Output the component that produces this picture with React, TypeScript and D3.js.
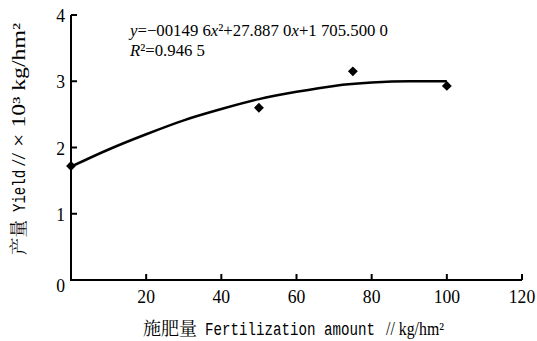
import React from "react";
import * as d3 from "d3";

const W = 537;
const H = 341;

// observed data points (fertilization kg/hm², yield ×10³ kg/hm²)
const pointX = [0, 50, 75, 100];
const pointY = [1.72, 2.6, 3.15, 2.93];

// fitted trend line
const curveX = [0, 10, 20, 30, 40, 50, 60, 70, 80, 90, 100];
const curveY = [1.71, 1.97, 2.2, 2.41, 2.58, 2.73, 2.84, 2.93, 2.98, 3.0, 3.0];

const xTicks = [20, 40, 60, 80, 100, 120];
const yTicks = [1, 2, 3, 4];

const serif = "Liberation Serif";
const mono = "Liberation Mono";
const cjk = "Noto Serif CJK SC";

export default function App() {
  const x = d3.scaleLinear().domain([0, 120]).range([71, 522]);
  const y = d3.scaleLinear().domain([0, 4]).range([280, 15]);

  const line = d3
    .line<number>()
    .x((_, i) => x(curveX[i]))
    .y((d) => y(d))
    .curve(d3.curveMonotoneX);

  const sym: any = (d3 as any).symbolDiamond2 || d3.symbolDiamond;
  const diamond = d3.symbol().type(sym).size(62)() as string;

  const S = (f: string) => ({ fontFamily: f });

  return (
    <svg
      width={W}
      height={H}
      style={{ position: "absolute", left: 0, top: 0, background: "#fff" }}
    >
      <rect width={W} height={H} fill="#fff" />
      {/* axes */}
      <line x1={x(0)} x2={x(120)} y1={y(0)} y2={y(0)} stroke="#000" strokeWidth={2} />
      <line x1={x(0)} x2={x(0)} y1={y(0) + 1} y2={y(4)} stroke="#000" strokeWidth={2} />
      {xTicks.map((t) => (
        <g key={"xt" + t}>
          <line x1={x(t)} x2={x(t)} y1={y(0)} y2={y(0) - 6} stroke="#000" strokeWidth={2} />
          <text
            x={x(t)}
            y={303}
            textAnchor="middle"
            style={S(serif)}
            fontSize={19}
            textLength={String(t).length * 8.8}
            lengthAdjust="spacingAndGlyphs"
          >
            {t}
          </text>
        </g>
      ))}
      {yTicks.map((t) => (
        <g key={"yt" + t}>
          <line x1={x(0)} x2={x(0) + 6} y1={y(t)} y2={y(t)} stroke="#000" strokeWidth={2} />
          <text
            x={65}
            y={y(t) + 7}
            textAnchor="end"
            style={S(serif)}
            fontSize={19}
            textLength={8.8}
            lengthAdjust="spacingAndGlyphs"
          >
            {t}
          </text>
        </g>
      ))}
      <text x={65} y={292} textAnchor="end" style={S(serif)} fontSize={19} textLength={8.8} lengthAdjust="spacingAndGlyphs">
        0
      </text>

      {/* trend line */}
      <path d={line(curveY) || ""} fill="none" stroke="#000" strokeWidth={2.5} />

      {/* points */}
      {pointX.map((px, i) => (
        <path
          key={"p" + i}
          d={diamond}
          transform={`translate(${x(px)},${y(pointY[i])})`}
          fill="#000"
        />
      ))}

      {/* equation */}
      <text
        x={130}
        y={36}
        style={S(serif)}
        fontSize={17}
        textLength={258}
        lengthAdjust="spacingAndGlyphs"
      >
        <tspan fontStyle="italic">y</tspan>
        <tspan>=−00149 6</tspan>
        <tspan fontStyle="italic">x</tspan>
        <tspan>²+27.887 0</tspan>
        <tspan fontStyle="italic">x</tspan>
        <tspan>+1 705.500 0</tspan>
      </text>
      <text
        x={130}
        y={56}
        style={S(serif)}
        fontSize={17}
        textLength={75}
        lengthAdjust="spacingAndGlyphs"
      >
        <tspan fontStyle="italic">R</tspan>
        <tspan>²=0.946 5</tspan>
      </text>

      {/* x title */}
      <text x={143} y={335} style={S(cjk)} fontSize={18} textLength={54} lengthAdjust="spacingAndGlyphs">
        施肥量
      </text>
      <text transform="translate(205,335) scale(0.787,1)" style={S(mono)} fontSize={18}>
        Fertilization amount
      </text>
      <text transform="translate(386,335) scale(0.88,1)" style={S(serif)} fontSize={18}>
        // kg/hm²
      </text>

      {/* y title */}
      <g transform="rotate(-90)">
        <text x={-255} y={25} style={S(cjk)} fontSize={18} textLength={35} lengthAdjust="spacingAndGlyphs">
          产量
        </text>
        <text transform="translate(-212,25) scale(0.78,1)" style={S(mono)} fontSize={18}>
          Yield
        </text>
        <text x={-166} y={25} style={S(serif)} fontSize={18} textLength={143} lengthAdjust="spacingAndGlyphs">
          // × 10³ kg/hm²
        </text>
      </g>
    </svg>
  );
}
